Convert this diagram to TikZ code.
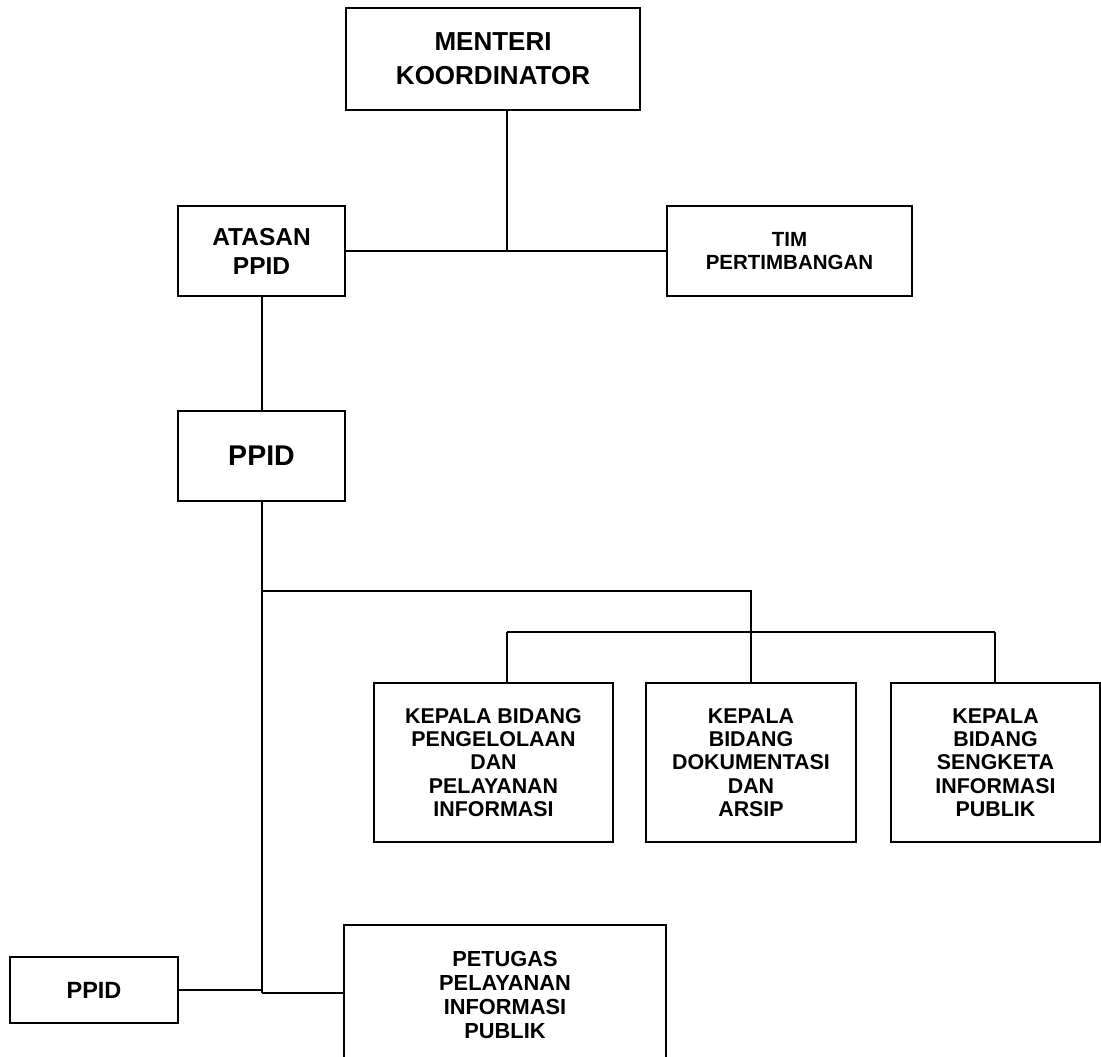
\documentclass[tikz,border=0pt]{standalone}
\usepackage{fontspec}
\setmainfont{Liberation Sans}
\begin{document}
\begin{tikzpicture}[x=1pt,y=-1pt,
  box/.style={draw=black,line width=1.8pt,rectangle,inner sep=0pt,align=center,font=\bfseries},
  link/.style={draw=black,line width=1.8pt},
  trunk/.style={draw=black,line width=2.6pt}]
\useasboundingbox[fill=white] (0,0) rectangle (1101,1057);
\node[box,minimum width=294pt,minimum height=102pt,font=\bfseries\fontsize{26}{34}\selectfont] (mk) at (493,59) {MENTERI\\KOORDINATOR};
\node[box,minimum width=167pt,minimum height=90pt,font=\bfseries\fontsize{24.5}{29}\selectfont] (atasan) at (261.5,251) {ATASAN\\PPID};
\node[box,minimum width=245pt,minimum height=90pt,font=\bfseries\fontsize{20.5}{23}\selectfont] (tim) at (789.5,251) {TIM\\PERTIMBANGAN};
\node[box,minimum width=167pt,minimum height=90pt,font=\bfseries\fontsize{28.5}{34}\selectfont] (ppid) at (261.5,456) {PPID};
\node[box,minimum width=239pt,minimum height=159pt,font=\bfseries\fontsize{21.4}{23.3}\selectfont] (k1) at (493.5,762.5) {KEPALA BIDANG\\PENGELOLAAN\\DAN\\PELAYANAN\\INFORMASI};
\node[box,minimum width=210pt,minimum height=159pt,font=\bfseries\fontsize{21.4}{23.3}\selectfont] (k2) at (751,762.5) {KEPALA\\BIDANG\\DOKUMENTASI\\DAN\\ARSIP};
\node[box,minimum width=209pt,minimum height=159pt,font=\bfseries\fontsize{21.4}{23.3}\selectfont] (k3) at (995.5,762.5) {KEPALA\\BIDANG\\SENGKETA\\INFORMASI\\PUBLIK};
\node[box,minimum width=168pt,minimum height=66pt,font=\bfseries\fontsize{23.5}{28}\selectfont] (ppidb) at (94,990) {PPID};
\node[box,minimum width=322pt,minimum height=140pt,font=\bfseries\fontsize{21.8}{24}\selectfont] (pet) at (505,995) {PETUGAS\\PELAYANAN\\INFORMASI\\PUBLIK};
% junctions
\coordinate (jmk) at (507,251);
\coordinate (j1) at (262,591);
\coordinate (j1r) at (751,591);
\coordinate (j2l) at (507,632);
\coordinate (j2r) at (995,632);
\coordinate (jb) at (262,993);
\coordinate (jbl) at (262,990);
% connectors
\draw[link] (atasan.east) -- (tim.west);
\draw[link] (mk.south -| jmk) -- (jmk);
\draw[link] (atasan.south -| jb) -- (ppid.north -| jb);
\draw[trunk] (ppid.south -| jb) -- (jb);
\draw[link] (j1) -- (j1r) -- (k2.north);
\draw[link] (j2l) -- (j2r);
\draw[link] (j2l) -- (k1.north -| j2l);
\draw[link] (j2r) -- (k3.north -| j2r);
\draw[link] (ppidb.east) -- (jbl);
\draw[link] (jb) -- (pet.west |- jb);
\end{tikzpicture}
\end{document}
